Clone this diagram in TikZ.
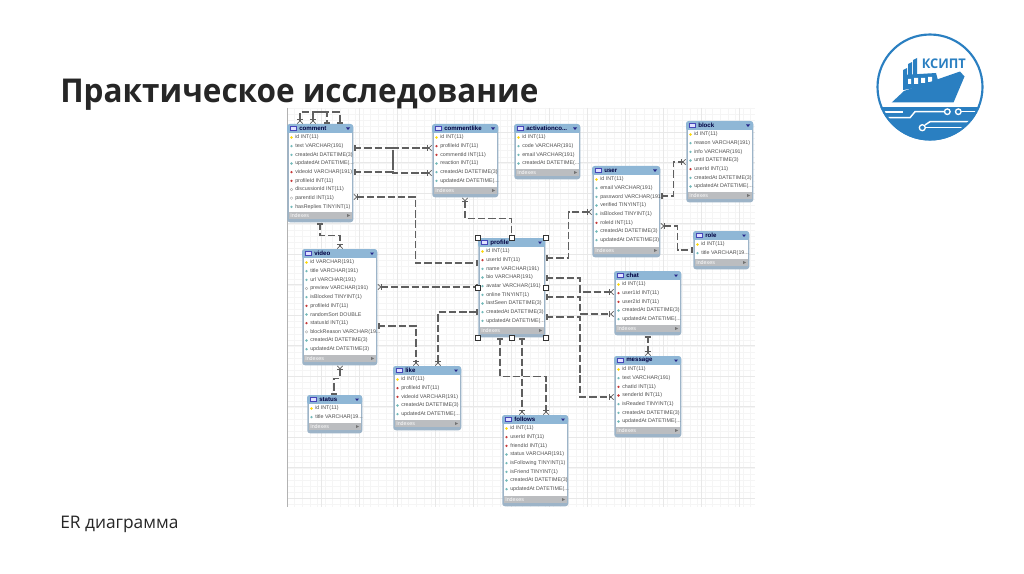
\documentclass[tikz,border=0pt]{standalone}
\usepackage{fontspec}
\setmainfont{Open Sans}
\newfontfamily\headfont[FakeStretch=0.96]{Open Sans}
\newfontfamily\tablefont{Liberation Sans}
\usetikzlibrary{positioning,arrows.meta,calc}
\definecolor{headblue}{HTML}{8FB7D6}
\definecolor{frameblue}{HTML}{9DB4C8}
\definecolor{barcol}{HTML}{BBBDC0}
\definecolor{linecol}{HTML}{5F5F5F}
\definecolor{logoblue}{HTML}{2A7FC1}
\definecolor{rowtxt}{HTML}{505050}
\newcommand{\trail}{.{}.{}.}
\tikzset{
  erone/.tip={Bar[width=4pt,line width=.55pt,sep=.7pt] Bar[width=4pt,line width=.55pt]},
  ermany/.tip={Bar[width=4pt,line width=.55pt] Straight Barb[reversed,length=2.2pt,width=4pt,line width=.55pt]},
  rel/.style={draw=linecol,line width=.9pt,dash pattern=on 5.5pt off 2.2pt},
  rowtext/.style={font=\tablefont\fontsize{4}{5}\selectfont,text=rowtxt,anchor=west,inner sep=0pt},
  icok/.style={fill=yellow!75!orange},
  icof/.style={fill=red!55!gray},
  icoc/.style={fill=teal!55!white},
  icon/.style={draw=gray!70,fill=white,line width=.25pt},
  handle/.style={draw=black!80,fill=white,line width=.5pt,minimum size=4pt,inner sep=0pt},
  logotrace/.style={draw=white,line width=1.1pt},
}
% name, left, top, width, height, title, rows
\newcommand{\entity}[7]{
  \node[fill=frameblue,rounded corners=2pt,minimum width=#4*0.75pt,minimum height=#5*0.75pt,inner sep=0pt,anchor=north west] (#1) at (#2,#3) {};
  \fill[headblue,rounded corners=2pt] (#2,#3) rectangle ({#2+#4},{#3+9.5});
  \fill[white] ({#2+1.5},{#3+9}) rectangle ({#2+#4-1.5},{#3+#5-10});
  \fill[barcol] ({#2+1.5},{#3+#5-10}) rectangle ({#2+#4-1.5},{#3+#5-3});
  \draw[fill=blue!12!white,draw=blue!45!gray,line width=.4pt] ({#2+3.5},{#3+2.5}) rectangle ({#2+9.5},{#3+6.5});
  \node[font=\tablefont\bfseries\fontsize{4.6}{5}\selectfont,text=black!75!blue,anchor=west,inner sep=0pt] (#1-title) at ({#2+12},{#3+4.7}) {#6};
  \fill[black!45!blue!70!gray] ({#2+#4-7},{#3+3.5}) -- ({#2+#4-3},{#3+3.5}) -- ({#2+#4-5},{#3+6}) -- cycle;
  \foreach \kind/\txt [count=\i] in {#7} {
    \node[rowtext] (#1-\i) at ({#2+8},{#3+13.5+8.67*(\i-1)}) {\txt};
    \path[ico\kind] ({#2+4.5},{#3+13.5+8.67*(\i-1)}) circle[radius=1.3];
  }
  \node[rowtext,text=white] (#1-idx) at ({#2+3},{#3+#5-6.5}) {Indexes};
  \fill[black!55] ({#2+#4-6},{#3+#5-8}) -- ({#2+#4-3},{#3+#5-6.5}) -- ({#2+#4-6},{#3+#5-5}) -- cycle;
}

\begin{document}
\begin{tikzpicture}[x=0.75pt,y=-0.75pt]
  \useasboundingbox (0,0) rectangle (1024,574);
  \fill[white] (0,0) rectangle (1024,574);

  % background grid of the model
  \foreach \gx in {287,294.6,...,755} \draw[black!4,line width=.3pt] (\gx,108) -- (\gx,507);
  \foreach \gy in {108,114.1,...,507} \draw[black!4,line width=.3pt] (287,\gy) -- (755,\gy);
  \foreach \gx in {321,359,...,755} \draw[black!9,line width=.4pt] (\gx,108) -- (\gx,507);
  \foreach \gy in {132,162.5,...,507} \draw[black!9,line width=.4pt] (287,\gy) -- (755,\gy);
  \draw[black!30,line width=.6pt] (287,108) -- (287,507);

  \node[anchor=base west,inner sep=0pt,font=\headfont\bfseries\fontsize{24.6}{26}\selectfont,text=black!85] (title) at (60,103) {Практическое исследование};
  \node[anchor=base west,inner sep=0pt,font=\fontsize{13}{14}\selectfont,text=black!85] (subtitle) at (60,528) {ER диаграмма};

  % tables
  \entity{comment}{287}{124}{66}{98}{comment}{k/id INT(11),c/text VARCHAR(191),c/createdAt DATETIME(3),c/updatedAt DATETIME(\trail,f/videoId VARCHAR(191),f/profileId INT(11),n/discussionId INT(11),n/parentId INT(11),c/hasReplies TINYINT(1)}
  \entity{commentlike}{432}{124}{66}{73}{commentlike}{k/id INT(11),f/profileId INT(11),f/commentId INT(11),c/reaction INT(11),c/createdAt DATETIME(3),c/updatedAt DATETIME(\trail}
  \entity{activation}{514}{124}{66}{55}{activationco\trail}{k/id INT(11),c/code VARCHAR(191),c/email VARCHAR(191),c/createdAt DATETIME(\trail}
  \entity{user}{592}{166}{68}{91}{user}{k/id INT(11),c/email VARCHAR(191),c/password VARCHAR(191),c/verified TINYINT(1),c/isBlocked TINYINT(1),f/roleId INT(11),c/createdAt DATETIME(3),c/updatedAt DATETIME(3)}
  \entity{block}{686}{121}{67}{81}{block}{k/id INT(11),c/reason VARCHAR(191),c/info VARCHAR(191),c/until DATETIME(3),f/userId INT(11),c/createdAt DATETIME(3),c/updatedAt DATETIME(\trail}
  \entity{role}{693}{231}{56}{38}{role}{k/id INT(11),c/title VARCHAR(19\trail}
  \entity{video}{302}{249}{75}{116}{video}{k/id VARCHAR(191),c/title VARCHAR(191),c/url VARCHAR(191),n/preview VARCHAR(191),c/isBlocked TINYINT(1),f/profileId INT(11),c/randomSort DOUBLE,f/statusId INT(11),n/blockReason VARCHAR(19\trail,c/createdAt DATETIME(3),c/updatedAt DATETIME(3)}
  \entity{status}{307}{395}{55}{38}{status}{k/id INT(11),c/title VARCHAR(19\trail}
  \entity{like}{393}{366}{68}{64}{like}{k/id INT(11),f/profileId INT(11),f/videoId VARCHAR(191),c/createdAt DATETIME(3),c/updatedAt DATETIME(\trail}
  \entity{profile}{478}{238}{67}{99}{profile}{k/id INT(11),f/userId INT(11),c/name VARCHAR(191),c/bio VARCHAR(191),c/avatar VARCHAR(191),c/online TINYINT(1),c/lastSeen DATETIME(3),c/createdAt DATETIME(3),c/updatedAt DATETIME(\trail}
  \entity{chat}{614}{271}{67}{64}{chat}{k/id INT(11),f/user1Id INT(11),f/user2Id INT(11),c/createdAt DATETIME(3),c/updatedAt DATETIME(\trail}
  \entity{message}{614}{356}{67}{81}{message}{k/id INT(11),c/text VARCHAR(191),f/chatId INT(11),f/senderId INT(11),c/isReaded TINYINT(1),c/createdAt DATETIME(3),c/updatedAt DATETIME(\trail}
  \entity{follows}{502}{415}{66}{91}{follows}{k/id INT(11),f/userId INT(11),f/friendId INT(11),c/status VARCHAR(191),c/isFollowing TINYINT(1),c/isFriend TINYINT(1),c/createdAt DATETIME(3),c/updatedAt DATETIME(\trail}

  % comment to itself
  \draw[rel,{ermany}-{erone}] ($(comment.north west)+(13,0)$) -- ++(0,-12) -| ($(comment.north west)+(53,0)$);
  \draw[rel,{ermany}-{erone}] ($(comment.north west)+(26,0)$) -- ++(0,-12) -| ($(comment.north west)+(40,0)$);
  % comment, commentlike
  \draw[rel,{erone}-{ermany}] ($(comment.north east)+(0,24)$) -- ++(39.5,0) |- ($(commentlike.north west)+(0,49)$);
  \draw[rel,{erone}-{ermany}] ($(comment.north east)+(0,48)$) -- ++(39.5,0) |- ($(commentlike.north west)+(0,24)$);
  \draw[rel,{ermany}-{erone}] ($(comment.north east)+(0,73)$) -- ++(62,0) |- ($(profile.north west)+(0,25)$);
  \draw[rel,{erone}-{ermany}] ($(comment.south west)+(33,0)$) -- ++(0,13) -| ($(video.north west)+(38,0)$);
  \draw[rel,{ermany}-{erone}] ($(commentlike.south west)+(33,0)$) -- ++(0,21) -| (profile.north);
  % user side
  \draw[rel,{erone}-{ermany}] ($(profile.north east)+(0,20)$) -- ++(23,0) |- ($(user.north west)+(0,46)$);
  \draw[rel,{erone}-{ermany}] ($(user.north east)+(0,30)$) -- ++(13,0) |- ($(block.north west)+(0,41)$);
  \draw[rel,{ermany}-{erone}] ($(user.north east)+(0,60)$) -- ++(17,0) |- ($(role.north west)+(0,19)$);
  % video side
  \draw[rel,{ermany}-{erone}] ($(video.north east)+(0,38)$) -- ($(profile.north west)+(0,49)$);
  \draw[rel,{erone}-{ermany}] ($(video.north east)+(0,77)$) -| ($(like.north west)+(23,0)$);
  \draw[rel,{ermany}-{erone}] ($(like.north west)+(45,0)$) |- ($(profile.north west)+(0,74)$);
  \draw[rel,{ermany}-{erone}] ($(video.south west)+(38,0)$) -- ++(0,13) -| ($(status.north west)+(27,0)$);
  % chat and message
  \draw[rel,{erone}-{ermany}] ($(profile.north east)+(0,40)$) -- ++(34.5,0) |- ($(chat.north west)+(0,21)$);
  \draw[rel,{erone}-{ermany}] ($(profile.north east)+(0,59)$) -- ++(34.5,0) |- ($(chat.north west)+(0,43)$);
  \draw[rel,{erone}-{ermany}] ($(profile.north east)+(0,79)$) -- ++(34.5,0) |- ($(message.north west)+(0,41)$);
  \draw[rel,{erone}-{ermany}] ($(chat.south west)+(34,0)$) -- ($(message.north west)+(34,0)$);
  % follows
  \draw[rel,{erone}-{ermany}] ($(profile.south west)+(22,0)$) -- ++(0,39) -| ($(follows.north west)+(44,0)$);
  \draw[rel,{erone}-{ermany}] ($(profile.south west)+(44,0)$) -- ($(follows.north west)+(20,0)$);

  % selection handles
  \foreach \anc [count=\h] in {north west,north,north east,west,east,south west,south,south east}
    \node[handle] (grip\h) at (profile.\anc) {};

  % logo
  \begin{scope}
    \clip (930,87) circle[radius=53.5];
    \fill[logoblue] (870,107) rectangle (990,145);
    \draw[logotrace] (882,112) -- (903,112);
    \draw[logotrace] (885,117.7) -- (910,117.7) -- (915,111.7) -- (944.5,111.7);
    \draw[logotrace] (961,111.7) -- (980,111.7);
    \draw[logotrace] (925,125) -- (930,121.7) -- (978,121.7);
    \draw[logotrace] (925.5,127.7) -- (972,127.7);
  \end{scope}
  \draw[logoblue,line width=1.6pt] (930,87) circle[radius=52.5];
  \draw[white,fill=logoblue,line width=1pt] (947.3,111.7) circle[radius=2.8];
  \draw[white,fill=logoblue,line width=1pt] (958.3,111.7) circle[radius=2.8];
  \draw[white,fill=logoblue,line width=1pt] (922.3,127.7) circle[radius=3];
  % ship
  \fill[logoblue] (903,70) -- (907,68) -- (907,84) -- (903,84) -- cycle;
  \fill[logoblue] (908,64) -- (912,62) -- (912,84) -- (908,84) -- cycle;
  \fill[logoblue] (913,60) -- (917,58) -- (917,84) -- (913,84) -- cycle;
  \fill[logoblue] (903,75) -- (936,73) -- (939,84) -- (903,90) -- cycle;
  \fill[white] (908,79) rectangle (911,84) (914,78) rectangle (918,84) (921,78) rectangle (925,83) (928,77) rectangle (932,82);
  \fill[logoblue] (891.7,102.5) -- (904,91) -- (960,71.5) -- (964.5,76.5) -- (953.5,102.5) -- cycle;
  \node[inner sep=0pt,anchor=base west,font=\headfont\bfseries\fontsize{10}{11}\selectfont,text=logoblue] (logotext) at (921.5,68.5) {КСИПТ};
\end{tikzpicture}
\end{document}
